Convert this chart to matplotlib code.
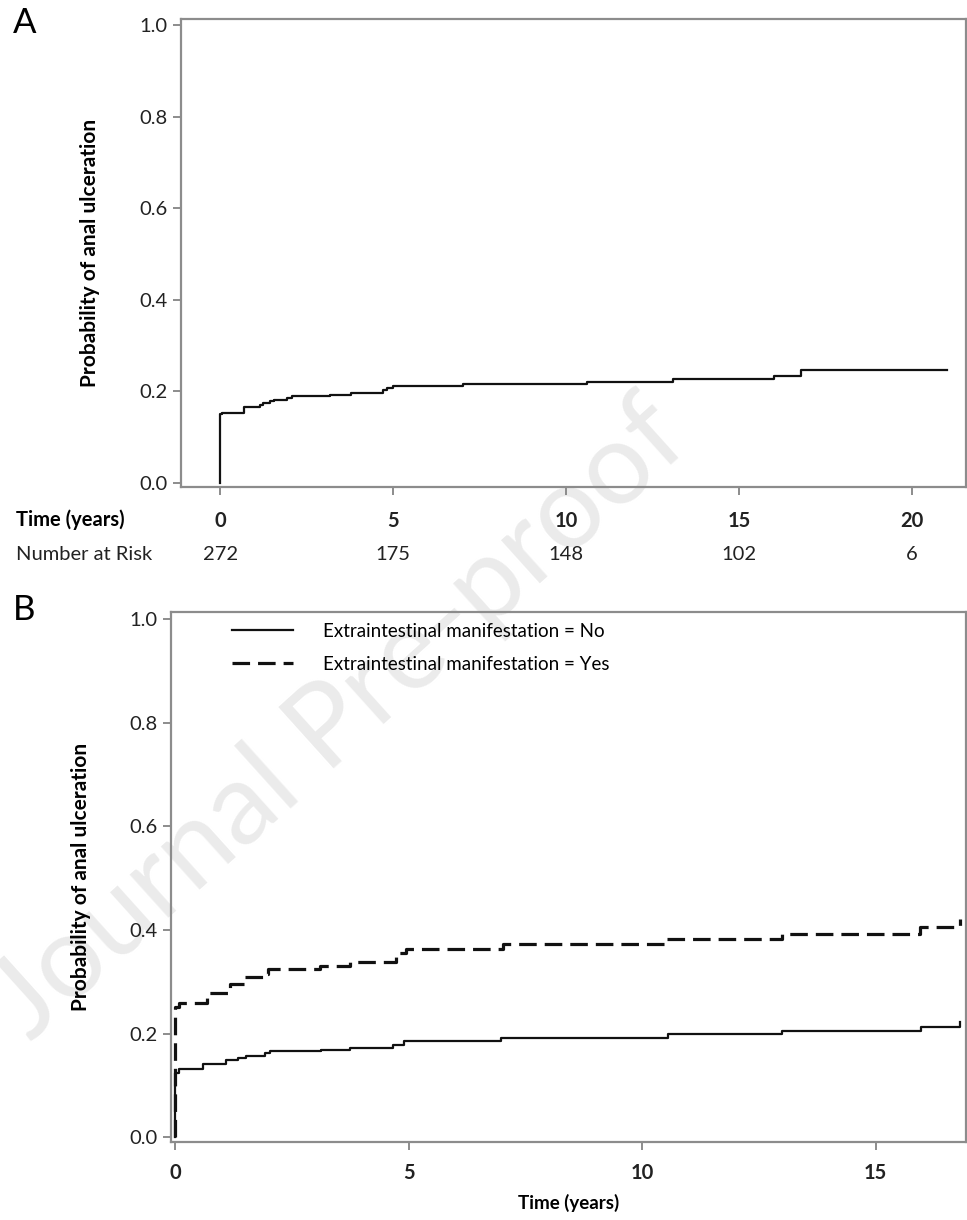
import matplotlib
matplotlib.use('Agg')
import matplotlib.pyplot as plt

plt.rcParams['font.family'] = ['Lato', 'DejaVu Sans']

# panel A: overall cumulative probability (step times in years)
a_time = [0, 0, 0.05, 0.69, 1.16, 1.24, 1.45, 1.56, 1.93, 2.08, 3.18, 3.79,
          4.71, 4.82, 5.0, 7.02, 10.6, 13.1, 16.0, 16.8, 21.0]
a_prob = [0, 0.151, 0.153, 0.166, 0.170, 0.174, 0.178, 0.180, 0.185, 0.189,
          0.193, 0.197, 0.203, 0.207, 0.212, 0.216, 0.221, 0.227, 0.233, 0.246, 0.246]
risk_times = [0, 5, 10, 15, 20]
risk_counts = [272, 175, 148, 102, 6]

# panel B: by extraintestinal manifestation
no_time = [0, 0, 0.08, 0.6, 1.1, 1.35, 1.53, 1.92, 2.03, 3.13, 3.74, 4.66,
           4.91, 6.98, 10.56, 13.0, 15.96, 16.8]
no_prob = [0, 0.125, 0.131, 0.141, 0.149, 0.153, 0.157, 0.163, 0.166, 0.169,
           0.173, 0.179, 0.186, 0.191, 0.199, 0.205, 0.213, 0.223]
yes_time = [0, 0, 0.08, 0.68, 1.18, 1.50, 1.89, 2.0, 3.10, 3.74, 4.74, 4.95,
            7.02, 10.54, 13.0, 15.95, 16.8]
yes_prob = [0, 0.252, 0.259, 0.279, 0.295, 0.309, 0.316, 0.324, 0.331, 0.339,
            0.356, 0.364, 0.372, 0.382, 0.392, 0.406, 0.422]

grey = '#8c8c8c'
fig = plt.figure(figsize=(9.67, 12.2), dpi=100)

fig.text(0.352, 0.41, 'Journal Pre-proof', fontsize=83, color='#ebebeb',
         rotation=42, ha='center', va='center', zorder=-1)


def style(ax):
    ax.patch.set_alpha(0)
    for s in ax.spines.values():
        s.set_color(grey)
        s.set_linewidth(1.6)
    ax.tick_params(color=grey, width=1.4, length=6, labelsize=14.5, labelcolor='#222222')
    ax.set_yticks([0, 0.2, 0.4, 0.6, 0.8, 1.0])
    ax.set_yticklabels(['0.0', '0.2', '0.4', '0.6', '0.8', '1.0'])
    ax.set_ylim(-0.009, 1.013)
    ax.set_ylabel('Probability of anal ulceration', fontsize=15, fontweight='bold')


ax1 = fig.add_axes([0.1872, 0.6008, 0.8117, 0.3836])
style(ax1)
ax1.step(a_time, a_prob, where='post', color='#111111', lw=1.6)
ax1.set_xlim(-1.13, 21.56)
ax1.set_xticks(risk_times)
ax1.set_xticklabels([str(t) for t in risk_times], fontweight='bold')
ax1.tick_params(axis='x', pad=11)
ax1.yaxis.set_label_coords(-0.103, 0.5)
for t, n in zip(risk_times, risk_counts):
    ax1.annotate(str(n), xy=(t, -0.145), xycoords=('data', 'axes fraction'),
                 ha='center', va='center', fontsize=14.5, color='#222222')
fig.text(0.017, 0.5738, 'Time (years)', fontsize=14.5, fontweight='bold',
         ha='left', va='center')
fig.text(0.017, 0.5451, 'Number at Risk', fontsize=14.5, ha='left', va='center',
         color='#222222')
fig.text(0.013, 0.981, 'A', fontsize=25, ha='left', va='center')

ax2 = fig.add_axes([0.1768, 0.0639, 0.822, 0.4344])
style(ax2)
ax2.step(no_time, no_prob, where='post', color='#111111', lw=1.6,
         label='Extraintestinal manifestation = No')
ax2.step(yes_time, yes_prob, where='post', color='#111111', lw=2.3,
         dashes=(5.5, 2.5), label='Extraintestinal manifestation = Yes')
ax2.set_xlim(-0.086, 16.93)
ax2.set_xticks([0, 5, 10, 15])
ax2.set_xticklabels(['0', '5', '10', '15'], fontweight='bold')
ax2.tick_params(axis='x', pad=9)
ax2.set_xlabel('Time (years)', fontsize=13.5, fontweight='bold', labelpad=8)
ax2.yaxis.set_label_coords(-0.1, 0.5)
ax2.legend(loc='upper left', bbox_to_anchor=(0.055, 1.012), frameon=False,
           fontsize=13.5, handlelength=3.3, handletextpad=1.6, labelspacing=0.85)
fig.text(0.013, 0.5, 'B', fontsize=25, ha='left', va='center')

fig.savefig('out.png', dpi=100)
